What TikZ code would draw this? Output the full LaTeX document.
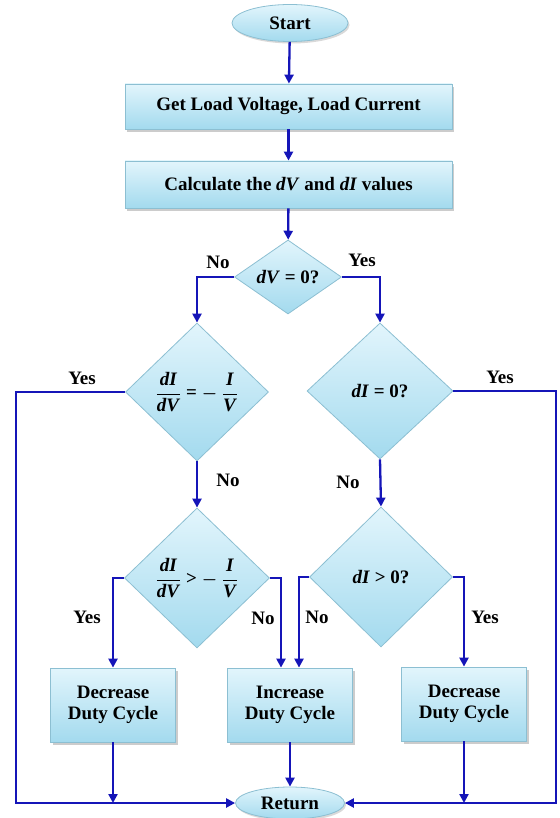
\documentclass[tikz,border=0pt]{standalone}
\usepackage{fontspec}
\usepackage{amsmath}
\setmainfont{Liberation Serif}
\usetikzlibrary{shapes.geometric,arrows.meta,shadows}
\definecolor{fillA}{HTML}{E2F5FC}
\definecolor{fillB}{HTML}{A3DAEE}
\definecolor{edgeC}{HTML}{8CBFD2}
\definecolor{lineC}{HTML}{1515B8}
\newcommand\bi[1]{\textbf{\textit{#1}}}
\newcommand\fracL{{\boldmath$\dfrac{\bi{dI}}{\bi{dV}}$}}
\newcommand\fracR{{\boldmath$\dfrac{\bi{I}}{\bi{V}}$}}
\newcommand\minus{{\boldmath$-$}}
\begin{document}
\begin{tikzpicture}[x=1pt,y=-1pt,
  font=\fontsize{19}{21}\selectfont\bfseries,
  proc/.style={rectangle, draw=edgeC, line width=0.8pt, top color=fillA, bottom color=fillB,
    drop shadow={opacity=0.4, shadow xshift=2pt, shadow yshift=-3pt}, inner sep=0pt, align=center},
  term/.style={ellipse, draw=edgeC, line width=0.8pt, top color=fillA, bottom color=fillB,
    drop shadow={opacity=0.3, shadow xshift=1.5pt, shadow yshift=-2pt}, inner sep=0pt},
  dec/.style={diamond, draw=edgeC, line width=0.8pt, top color=fillA, bottom color=fillB, inner sep=0pt},
  flow/.style={draw=lineC, line width=2.3pt, -{Triangle[length=9pt,width=9pt]}},
  lab/.style={inner sep=0pt}]
\useasboundingbox (0,0) rectangle (559,818);

\node[term, minimum width=116pt, minimum height=37pt] (start) at (290,23) {Start};
\node[proc, minimum width=327pt, minimum height=45pt] (get) at (288.5,106.5) {Get Load Voltage, Load Current};
\node[proc, minimum width=327pt, minimum height=47pt] (calc) at (288.5,184.5) {Calculate the \bi{dV} and \bi{dI} values};

\node[dec, minimum width=107pt, minimum height=74pt] (d1) at (288,277) {};
\node[lab] (t1) at (d1.center) {\bi{dV} = 0?};
\node[dec, minimum width=143pt, minimum height=138pt] (d2) at (197,392) {};
\node[lab] (t2) at (d2.center) {\fracL{} = \minus{} \fracR};
\node[dec, minimum width=146pt, minimum height=136pt] (d3) at (380,391) {};
\node[lab] (t3) at (d3.center) {\bi{dI} = 0?};
\node[dec, minimum width=145pt, minimum height=140pt] (d4) at (197,578) {};
\node[lab] (t4) at (d4.center) {\fracL{} > \minus{} \fracR};
\node[dec, minimum width=143pt, minimum height=140pt] (d5) at (381,577) {};
\node[lab] (t5) at (d5.center) {\bi{dI} > 0?};

\node[proc, minimum width=125pt, minimum height=74pt] (b1) at (113,705) {Decrease\\Duty Cycle};
\node[proc, minimum width=125pt, minimum height=74pt] (b2) at (290,705) {Increase\\Duty Cycle};
\node[proc, minimum width=125pt, minimum height=74pt] (b3) at (464,704) {Decrease\\Duty Cycle};

\node[term, minimum width=109pt, minimum height=32pt] (ret) at (290,803) {Return};

\coordinate (lc) at (16,803);
\coordinate (rc) at (556,803);

\draw[flow] (start) -- (get);
\draw[flow] (get) -- (calc);
\draw[flow] (calc) -- (d1);
\draw[flow] (d1.west) -| (d2.north);
\draw[flow] (d1.east) -| (d3.north);
\draw[flow] (d2.south) -- (d4.north);
\draw[flow] (d3.south) -- (d5.north);
\draw[flow] (d2.west) -| (lc) -- (ret.west);
\draw[flow] (d3.east) -| (rc) -- (ret.east);
\draw[flow] (d4.west) -| (b1.north);
\draw[flow] (d4.east) -| ([xshift=-9pt]b2.north);
\draw[flow] (d5.west) -| ([xshift=9pt]b2.north);
\draw[flow] (d5.east) -| (b3.north);
\draw[flow] (b1.south) -- (b1.south |- ret.west);
\draw[flow] (b2) -- (ret);
\draw[flow] (b3.south) -- (b3.south |- ret.east);

\node[lab] (n1) at (218,262) {No};
\node[lab] (y1) at (362,260) {Yes};
\node[lab] (y2) at (82,378) {Yes};
\node[lab] (y3) at (500,377) {Yes};
\node[lab] (n2) at (228,480) {No};
\node[lab] (n3) at (348,482) {No};
\node[lab] (y4) at (87,617) {Yes};
\node[lab] (n4) at (263,618) {No};
\node[lab] (n5) at (317,617) {No};
\node[lab] (y5) at (485,617) {Yes};
\end{tikzpicture}
\end{document}
